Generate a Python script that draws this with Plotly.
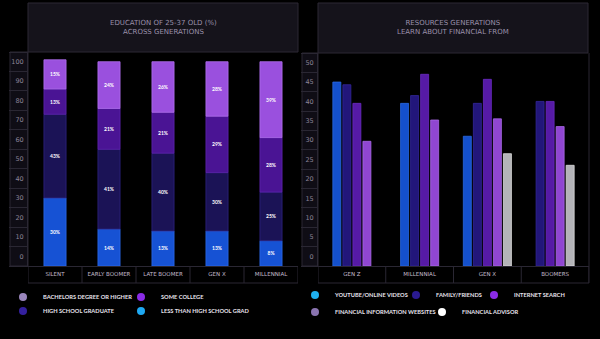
import plotly.graph_objects as go

# ---------------- data ----------------
edu_categories = ["SILENT", "EARLY BOOMER", "LATE BOOMER", "GEN X", "MILLENNIAL"]
less_than_hs = [30, 14, 13, 13, 8]
hs_graduate = [43, 41, 40, 30, 25]
some_college = [13, 21, 21, 29, 28]
bachelors = [15, 24, 26, 28, 39]
edu_ticks = [0, 10, 20, 30, 40, 50, 60, 70, 80, 90, 100]

res_categories = ["GEN Z", "MILLENNIAL", "GEN X", "BOOMERS"]
youtube = [45, 39.5, 31, None]
family = [44.3, 41.5, 39.5, 40]
internet = [39.5, 47, 45.7, 40]
fin_websites = [29.7, 35.2, 35.5, 33.5]
fin_pro = [None, None, 26.5, 23.5]
res_ticks = [0, 5, 10, 15, 20, 25, 30, 35, 40, 45, 50]

W, H = 600, 339
BG = "#000000"
GRID = "#2a2733"
TXT = "#8c8498"


def px(x):
    return x / W


def py(y):
    return 1 - y / H


fig = go.Figure()

# legend slots: (text x in px, row y in px)
legend_slots = {}
slot_id = [0]


def new_legend(text_x, row_y):
    slot_id[0] += 1
    key = "legend" if slot_id[0] == 1 else f"legend{slot_id[0]}"
    legend_slots[key] = (text_x, row_y)
    return key


# ---------------- left: stacked education bars ----------------
edu_base0 = -5
edu_series = [
    ("LESS THAN HIGH SCHOOL GRAD", less_than_hs, "#1652d4", "#2c6ae8"),
    ("HIGH SCHOOL GRADUATE", hs_graduate, "#1b1356", "#2e2380"),
    ("SOME COLLEGE", some_college, "#4a1494", "#5e24ad"),
    ("BACHELORS DEGREE OR HIGHER", bachelors, "#9a50de", "#b070ee"),
]
cum = [0] * len(edu_categories)
for i, (name, vals, col, lcol) in enumerate(edu_series):
    if i == 0:
        base = [edu_base0] * len(vals)
        heights = [v - edu_base0 for v in vals]
    else:
        base = list(cum)
        heights = list(vals)
    fig.add_trace(go.Bar(
        x=edu_categories, y=heights, base=base, width=0.41,
        marker=dict(color=col, line=dict(color=lcol, width=0.8)),
        text=[f"{v}%" for v in vals], textposition="inside",
        insidetextanchor="middle", textangle=0,
        textfont=dict(size=5, color="#ffffff", family="Lato", weight="bold"),
        showlegend=False, xaxis="x", yaxis="y", hoverinfo="skip",
    ))
    cum = [c + v for c, v in zip(cum, vals)]

# legend entries (left)
left_leg = [
    ("BACHELORS DEGREE OR HIGHER", "#9a86bc", 39, 297),
    ("SOME COLLEGE", "#8a2be6", 157, 297),
    ("HIGH SCHOOL GRADUATE", "#34209e", 39, 311),
    ("LESS THAN HIGH SCHOOL GRAD", "#1ea8f2", 157, 311),
]
for name, col, tx, ty in left_leg:
    fig.add_trace(go.Scatter(x=[None], y=[None], mode="markers", name=name,
                             marker=dict(symbol="circle", size=8, color=col),
                             legend=new_legend(tx, ty), xaxis="x", yaxis="y"))

# ---------------- right: grouped resource bars ----------------
res_base0 = -2.5
res_series = [
    ("YOUTUBE/ONLINE VIDEOS", youtube, "#1450cc", "#2a68e0", "#1eb0f0", 331, 295),
    ("FAMILY/FRIENDS", family, "#22167a", "#33279a", "#2a1a90", 432, 295),
    ("INTERNET SEARCH", internet, "#561aa6", "#6a2cc0", "#8a2be6", 510, 295),
    ("FINANCIAL INFORMATION WEBSITES", fin_websites, "#9046d2", "#a868e6", "#8a74b0", 331, 312),
    ("FINANCIAL ADVISOR", fin_pro, "#b4b4b8", "#dadada", "#ffffff", 458, 312),
]
bw, pitch = 0.118, 0.148
present = [[s[1][c] is not None for s in res_series] for c in range(len(res_categories))]
for si, (name, vals, col, lcol, legcol, tx, ty) in enumerate(res_series):
    offs = []
    for c in range(len(res_categories)):
        n = sum(present[c])
        k = sum(present[c][:si])
        offs.append(-n * pitch / 2 + k * pitch + (pitch - bw) / 2)
    fig.add_trace(go.Bar(
        x=res_categories,
        y=[None if v is None else v - res_base0 for v in vals],
        base=res_base0, width=bw, offset=offs,
        marker=dict(color=col, line=dict(color=lcol, width=0.8)),
        showlegend=False, xaxis="x2", yaxis="y2", hoverinfo="skip",
    ))
    fig.add_trace(go.Scatter(x=[None], y=[None], mode="markers", name=name,
                             marker=dict(symbol="circle", size=8, color=legcol),
                             legend=new_legend(tx, ty), xaxis="x2", yaxis="y2"))

# ---------------- layout ----------------
axfont = dict(size=6.5, color=TXT, family="DejaVu Sans")
catfont = dict(size=5.5, color="#c4bccc", family="DejaVu Sans")

L_x0, L_x1, L_y0, L_y1 = 28, 298, 52, 266
R_x0, R_x1, R_y0, R_y1 = 318, 589, 53, 266

common_y = dict(showgrid=False, zeroline=False, showline=True, linecolor=GRID,
                linewidth=1, ticks="", tickfont=axfont, ticklabelstandoff=2,
                fixedrange=True)
common_x = dict(type="category", showgrid=False, zeroline=False, showline=True,
                linecolor=GRID, linewidth=1, ticks="", tickfont=catfont,
                ticklabelstandoff=2, fixedrange=True)

leg_common = dict(orientation="h", bgcolor="rgba(0,0,0,0)", borderwidth=0,
                  font=dict(size=5.7, color="#e8e4ee", family="Lato", weight="bold"),
                  itemwidth=30, xanchor="left", yanchor="middle",
                  itemclick=False, itemdoubleclick=False)

legend_layout = {}
for key, (tx, ty) in legend_slots.items():
    legend_layout[key] = dict(x=px(tx - 36), y=py(ty), **leg_common)

fig.update_layout(
    width=W, height=H, paper_bgcolor=BG, plot_bgcolor=BG,
    margin=dict(l=0, r=0, t=0, b=0), barmode="overlay", showlegend=True,
    xaxis=dict(domain=[px(L_x0), px(L_x1)], range=[-0.5, 4.5], anchor="y", **common_x),
    yaxis=dict(domain=[py(L_y1), py(L_y0)], range=[-5, 105], tickvals=edu_ticks,
               anchor="x",
               minor=dict(tick0=-5, dtick=10, ticks="outside", ticklen=18,
                          tickcolor=GRID, tickwidth=1),
               **common_y),
    xaxis2=dict(domain=[px(R_x0), px(R_x1)], range=[-0.5, 3.5], anchor="y2", **common_x),
    yaxis2=dict(domain=[py(R_y1), py(R_y0)], range=[-2.5, 52.5], tickvals=res_ticks,
                anchor="x2",
                minor=dict(tick0=-2.5, dtick=5, ticks="outside", ticklen=16,
                           tickcolor=GRID, tickwidth=1),
                **common_y),
    **legend_layout,
)

shapes = []
# title boxes
for x0, x1, y0, y1 in [(28, 298, 3, 52), (318, 588, 3, 53)]:
    shapes.append(dict(type="rect", xref="paper", yref="paper", x0=px(x0), x1=px(x1),
                       y0=py(y1), y1=py(y0), fillcolor="#15131b",
                       line=dict(color="#2c2934", width=1), layer="below"))
# y tick cell columns
for x0, x1, y0, y1 in [(10, 28, 52, 266), (302, 318, 53, 266)]:
    shapes.append(dict(type="rect", xref="paper", yref="paper", x0=px(x0), x1=px(x1),
                       y0=py(y1), y1=py(y0), fillcolor="#0f0d15",
                       line=dict(color=GRID, width=1), layer="below"))
# category cell separators and bottom lines
for n, ax, (x0, x1, yb, yt) in [(5, "x", (28, 298, 283, 266)), (4, "x2", (318, 589, 283, 266))]:
    for k in range(n + 1):
        shapes.append(dict(type="line", xref=ax, yref="paper", x0=k - 0.5, x1=k - 0.5,
                           y0=py(yb), y1=py(yt), line=dict(color=GRID, width=1)))
    shapes.append(dict(type="line", xref="paper", yref="paper", x0=px(x0), x1=px(x1),
                       y0=py(yb), y1=py(yb), line=dict(color=GRID, width=1)))
# right edge of right panel
shapes.append(dict(type="line", xref="paper", yref="paper", x0=px(589), x1=px(589),
                   y0=py(283), y1=py(53), line=dict(color=GRID, width=1)))

annotations = [
    dict(text="EDUCATION OF 25-37 OLD (%)<br>ACROSS GENERATIONS", x=px(163), y=py(27),
         xref="paper", yref="paper", showarrow=False, xanchor="center", yanchor="middle",
         font=dict(size=7, color="#9a90aa", family="DejaVu Sans")),
    dict(text="RESOURCES GENERATIONS<br>LEARN ABOUT FINANCIAL FROM", x=px(453), y=py(27),
         xref="paper", yref="paper", showarrow=False, xanchor="center", yanchor="middle",
         font=dict(size=7, color="#9a90aa", family="DejaVu Sans")),
]
fig.update_layout(shapes=shapes, annotations=annotations)

fig.write_html("out.html")
